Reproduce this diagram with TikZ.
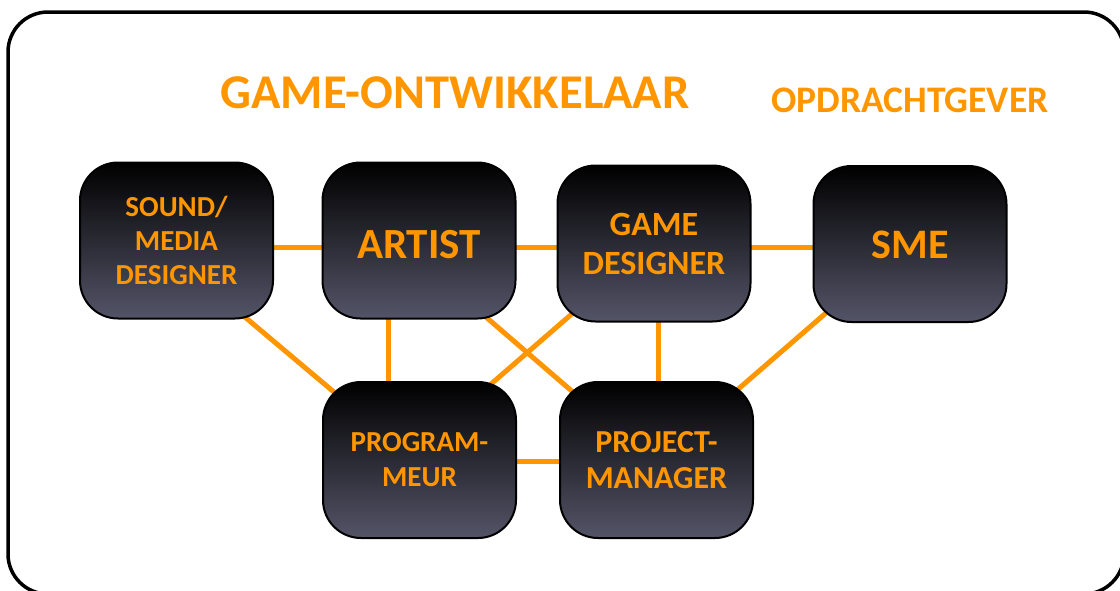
\documentclass[tikz,border=0pt]{standalone}
\usepackage{fontspec}
\setmainfont{Carlito}
\usetikzlibrary{backgrounds}
\definecolor{oranje}{RGB}{255,150,0}
\definecolor{vakonder}{RGB}{84,84,104}

\begin{document}
\begin{tikzpicture}[x=1pt,y=-1pt,
		rol/.style={draw=black, line width=2pt, rounded corners=38pt,
			minimum width=193pt, minimum height=156pt, inner sep=0pt,
			top color=black, bottom color=vakonder,
			text=oranje, align=center},
		lijn/.style={draw=oranje, line width=5pt}]
	\useasboundingbox (0,0) rectangle (1120,590);
	
	% Moldura externa arredondada
	\draw[line width=3.5pt, rounded corners=40pt] (8,12) rectangle (1124,594);
	
	% Títulos dos dois lados
	\node[text=oranje, font=\fontsize{48.5}{55}\selectfont\bfseries] (ontw) at (455,93) {GAME-ONTWIKKELAAR};
	\node[text=oranje, font=\fontsize{37.5}{43}\selectfont\bfseries] (opdr) at (910,100) {OPDRACHTGEVER};
	
	% Caixas dos papéis
	\node[rol, font=\fontsize{29}{34}\selectfont\bfseries] (snd) at (176.5,240.5) {SOUND/\\MEDIA\\DESIGNER};
	\node[rol, font=\fontsize{43}{50}\selectfont\bfseries] (art) at (419,240.5) {\raisebox{-4.5pt}[\height][\depth]{ARTIST}};
	\node[rol, font=\fontsize{42}{50}\selectfont\bfseries] (sme) at (910,244) {\raisebox{-1pt}[\height][\depth]{SME}};
	\node[rol, font=\fontsize{34}{39}\selectfont\bfseries] (gd) at (654,243.5) {GAME\\DESIGNER};
	\node[rol, font=\fontsize{29}{35}\selectfont\bfseries] (prg) at (419.5,460) {PROGRAM-\\MEUR};
	\node[rol, font=\fontsize{32}{36}\selectfont\bfseries] (pm) at (656.5,460) {PROJECT-\\MANAGER};
	
	% Ligações por trás das caixas
	\begin{pgfonlayer}{background}
		\draw[lijn] ([shift={(0,6.5)}]snd.center) -- ([shift={(0,6.5)}]art.center);
		\draw[lijn] ([shift={(0,6.5)}]art.center) -- ([shift={(0,3.5)}]gd.center);
		\draw[lijn] ([shift={(0,3.5)}]gd.center) -- ([shift={(0,3)}]sme.center);
		\draw[lijn] ([shift={(0,1)}]prg.center) -- ([shift={(0,1)}]pm.center);
		\draw[lijn] ([shift={(-31,0)}]art.center) -- ([shift={(-31.5,0)}]prg.center);
		\draw[lijn] ([shift={(4,0)}]gd.center) -- ([shift={(1.5,0)}]pm.center);
		\draw[lijn] ([shift={(24.5,39.5)}]snd.center) -- ([shift={(-40.5,-30)}]prg.center);
		\draw[lijn] ([shift={(24,39.5)}]art.center) -- ([shift={(-39.5,-30)}]pm.center);
		\draw[lijn] ([shift={(-43,36.5)}]gd.center) -- ([shift={(18.5,-30)}]prg.center);
		\draw[lijn] ([shift={(-46,36)}]sme.center) -- ([shift={(34.5,-30)}]pm.center);
	\end{pgfonlayer}
\end{tikzpicture}
\end{document}
